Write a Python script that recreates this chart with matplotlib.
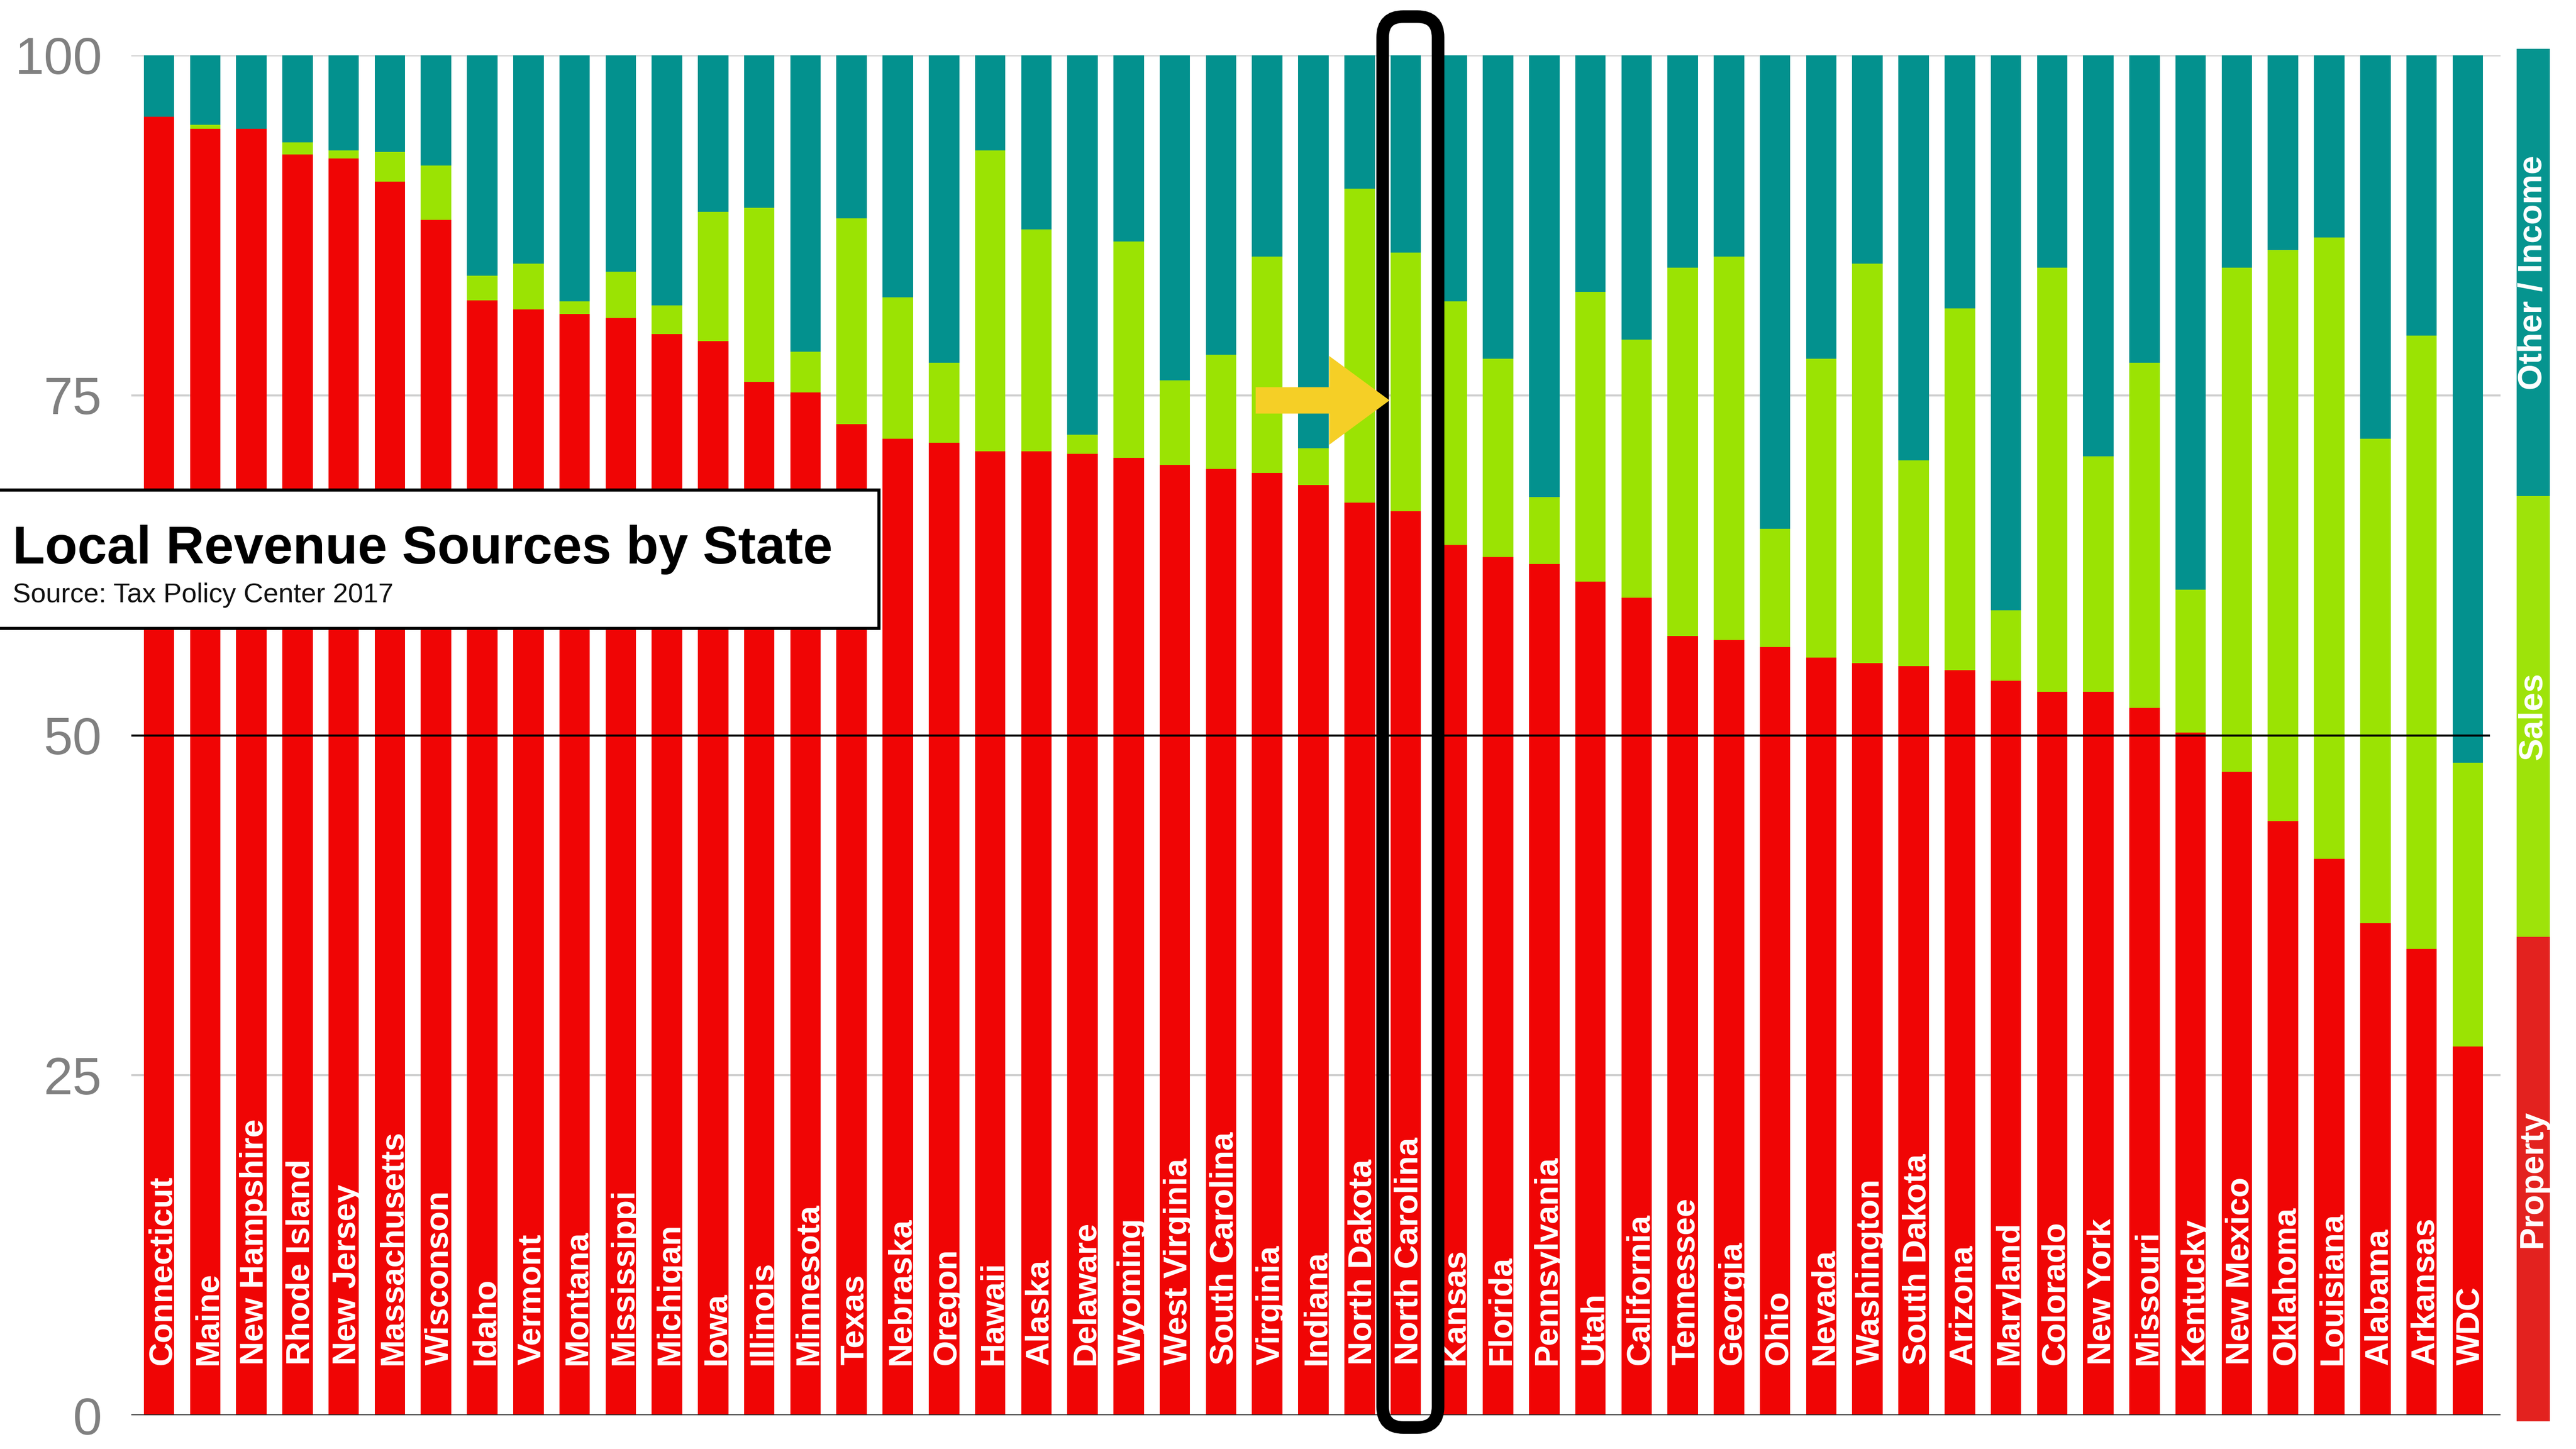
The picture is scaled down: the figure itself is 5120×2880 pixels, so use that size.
import numpy as np
import matplotlib
matplotlib.use("Agg")
import matplotlib.pyplot as plt
from matplotlib.patches import Rectangle, FancyBboxPatch, FancyArrow

plt.rcParams["font.family"] = ["Liberation Sans", "DejaVu Sans"]

# ---- data: share of local revenue (%) by source -------------------------
states = [
    "Connecticut", "Maine", "New Hampshire", "Rhode Island", "New Jersey",
    "Massachusetts", "Wisconson", "Idaho", "Vermont", "Montana",
    "Mississippi", "Michigan", "Iowa", "Illinois", "Minnesota", "Texas",
    "Nebraska", "Oregon", "Hawaii", "Alaska", "Delaware", "Wyoming",
    "West Virginia", "South Carolina", "Virginia", "Indiana", "North Dakota",
    "North Carolina", "Kansas", "Florida", "Pennsylvania", "Utah",
    "California", "Tennessee", "Georgia", "Ohio", "Nevada", "Washington",
    "South Dakota", "Arizona", "Maryland", "Colorado", "New York",
    "Missouri", "Kentucky", "New Mexico", "Oklahoma", "Louisiana",
    "Alabama", "Arkansas", "WDC",
]
property_share = [
    95.5, 94.6, 94.6, 92.7, 92.4, 90.7, 87.9, 82.0, 81.3, 81.0,
    80.7, 79.5, 79.0, 76.0, 75.2, 72.9, 71.8, 71.5, 70.9, 70.9,
    70.7, 70.4, 69.9, 69.6, 69.3, 68.4, 67.1, 66.5, 64.0, 63.1,
    62.6, 61.3, 60.1, 57.3, 57.0, 56.5, 55.7, 55.3, 55.1, 54.8,
    54.0, 53.2, 53.2, 52.0, 50.2, 47.3, 43.7, 40.9, 36.2, 34.3,
    27.1,
]
sales_share = [
    0.0, 0.3, 0.0, 0.9, 0.6, 2.2, 4.0, 1.8, 3.4, 0.9,
    3.4, 2.1, 9.5, 12.8, 3.0, 15.1, 10.4, 5.9, 22.1, 16.3,
    1.4, 15.9, 6.2, 8.4, 15.9, 2.7, 23.1, 19.0, 17.9, 14.6,
    4.9, 21.3, 19.0, 27.1, 28.2, 8.7, 22.0, 29.4, 15.1, 26.6,
    5.2, 31.2, 17.3, 25.4, 10.5, 37.1, 42.0, 45.7, 35.6, 45.1,
    20.9,
]
other_share = [
    4.5, 5.1, 5.4, 6.4, 7.0, 7.1, 8.1, 16.2, 15.3, 18.1,
    15.9, 18.4, 11.5, 11.2, 21.8, 12.0, 17.8, 22.6, 7.0, 12.8,
    27.9, 13.7, 23.9, 22.0, 14.8, 28.9, 9.8, 14.5, 18.1, 22.3,
    32.5, 17.4, 20.9, 15.6, 14.8, 34.8, 22.3, 15.3, 29.8, 18.6,
    40.8, 15.6, 29.5, 22.6, 39.3, 15.6, 14.3, 13.4, 28.2, 20.6,
    52.0,
]
y_ticks = [0, 25, 50, 75, 100]
legend_labels = ["Property", "Sales", "Other / Income"]
highlight_state = "North Carolina"
title = "Local Revenue Sources by State"
subtitle = "Source: Tax Policy Center 2017"

# ---- styling ------------------------------------------------------------
RED, LIME, TEAL = "#F00505", "#9BE303", "#03918E"
LEG_COLORS = ["#E3221F", "#9EE30A", "#06948F"]
ARROW_YELLOW = "#F5CF26"

W, H, DPI = 5120, 2880, 100
fig = plt.figure(figsize=(W / DPI, H / DPI), dpi=DPI)
fig.patch.set_facecolor("white")


def fx(px):
    return px / W


def fy(py):
    return 1 - py / H


ax = fig.add_axes([fx(261), fy(2813), fx(4970) - fx(261), fy(110) - fy(2813)])
ax.set_xlim(-0.6, len(states) - 1 + 0.71)
ax.set_ylim(0, 100)

x = np.arange(len(states))
prop = np.array(property_share)
sales = np.array(sales_share)
other = np.array(other_share)
bar_w = 0.66
ax.bar(x, prop, width=bar_w, color=RED, linewidth=0, zorder=2)
ax.bar(x, sales, bottom=prop, width=bar_w, color=LIME, linewidth=0, zorder=2)
ax.bar(x, other, bottom=prop + sales, width=bar_w, color=TEAL, linewidth=0, zorder=2)

# reference lines
for t in (25, 75, 100):
    ax.axhline(t, color="#cfcfcf", lw=3, zorder=1)
ax.axhline(0, color="#333333", lw=3.6, zorder=3)
ax.hlines(50, ax.get_xlim()[0], len(states) - 1 + 0.48, color="black", lw=3, zorder=4)

# state names inside the bars
for i, name in enumerate(states):
    ax.text(i, 3.7, name, rotation=90, rotation_mode="anchor", ha="left",
            va="center_baseline", color="white", fontsize=47,
            fontweight="bold", zorder=5)

ax.set_xticks([])
ax.set_yticks(y_ticks)
ax.set_yticklabels([str(t) for t in y_ticks])
ax.tick_params(axis="y", length=0, pad=42, labelsize=75, labelcolor="#808080")
for s in ax.spines.values():
    s.set_visible(False)

# highlight of one state: rounded frame plus pointing arrow
hi = states.index(highlight_state)
px_per_x = (4970 - 261) / (ax.get_xlim()[1] - ax.get_xlim()[0])
px_per_y = (2813 - 110) / 100.0
frame = FancyBboxPatch((hi - 0.5, -0.9), 1.2, 103.75,
                       boxstyle="round,pad=0,rounding_size=0.45",
                       mutation_aspect=px_per_x / px_per_y,
                       facecolor="none", edgecolor="black", lw=18,
                       clip_on=False, zorder=6)
ax.add_patch(frame)
arrow = FancyArrow(hi - 3.25, 74.63, 2.9, 0, width=1.94, head_width=6.54,
                   head_length=1.31, length_includes_head=True,
                   color=ARROW_YELLOW, lw=0, clip_on=False, zorder=7)
ax.add_patch(arrow)

# colour key on the right
lax = fig.add_axes([fx(5002), fy(2825), fx(5068) - fx(5002), fy(97) - fy(2825)])
lax.set_xlim(0, 1)
lax.set_ylim(0, 1)
lax.axis("off")
edges = [0.0, 0.353, 0.674, 1.0]
for k, (lab, col) in enumerate(zip(legend_labels, LEG_COLORS)):
    lax.add_patch(Rectangle((0, edges[k]), 1, edges[k + 1] - edges[k],
                            facecolor=col, edgecolor="none"))
    lax.text(0.5, (edges[k] + edges[k + 1]) / 2, lab, rotation=90,
             ha="center", va="center", color="white", fontsize=48,
             fontweight="bold")

# title panel
fig.add_artist(Rectangle((fx(-30), fy(1249)), fx(1747) - fx(-30), fy(974) - fy(1249),
                         transform=fig.transFigure, facecolor="white",
                         edgecolor="black", lw=4.5, zorder=10))
fig.text(fx(25), fy(1120), title, fontsize=76, fontweight="bold",
         ha="left", va="baseline", color="black", zorder=11)
fig.text(fx(25), fy(1197), subtitle, fontsize=39, ha="left", va="baseline",
         color="#111111", zorder=11)

fig.savefig("out.png", dpi=DPI, facecolor="white")
